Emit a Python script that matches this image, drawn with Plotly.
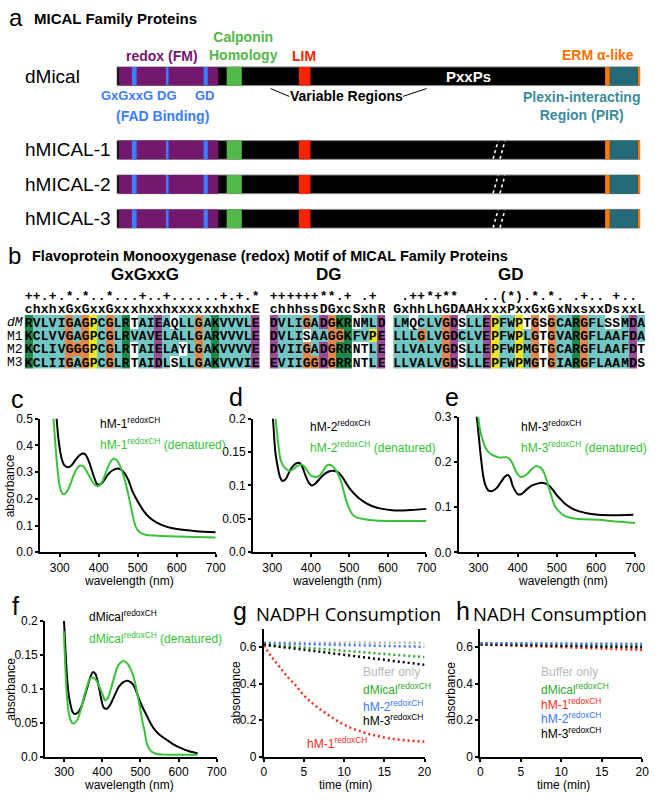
import plotly.graph_objects as go

W, H = 660, 801

SANS = "Liberation Sans, Arial, sans-serif"
MONO = "Liberation Mono, Courier New, monospace"
TITLE = "Open Sans, Noto Sans, sans-serif"

# ---------- a: domain maps (positions on a 0-1000 relative length scale) ----------
proteins = ["dMical", "hMICAL-1", "hMICAL-2", "hMICAL-3"]
backbone = (0, 1000)
redox_fm = (4, 194)
fad_motifs = [(29, 38), (94, 99), (166, 174)]
calponin_homology = (210, 239)
lim_domain = (348, 370)
erm_alpha = [(933, 942), (995, 1000)]
pir_region = (942, 995)

# ---------- b: redox motif alignment ----------
motif_names = ["GxGxxG", "DG", "GD"]
conservation = ["++.+.*.*..*...+..+......+.+.*",
                "++++++**.+ .+ ",
                " .++*+**   .. @ .*.*. .+.. +.. "]   # @ = (*)
consensus = ["chxhxGxGxxGxxxhxxhxxxxxxhxhxE",
             "chhhssDGxcSxhR",
             "GxhhLhGDAAHxxxPxxGxGxNxsxxDsxxL"]
seq_names = ["dM", "M1", "M2", "M3"]
seq_dM = ["RVLVIGAGPCGLRTAIEAQLLGAKVVVLE", "DVLIGADGKRNMLD", "LMQCLVGDSLLEPFWPTGSGCARGFLSSMDA"]
seq_M1 = ["KCLVVGAGPCGLRVAVELALLGARVVVLE", "DVLISAAGGKFVPE", "LLLGLVGDCLVEPFWPLGTGVARGFLAAFDA"]
seq_M2 = ["KCLIVGGGPCGLRTAIELAYLGAKVVVVE", "DVIIGADGRRNTLE", "LLVALVGDSLLEPFWPMGTGCARGFLAAFDT"]
seq_M3 = ["KCLIIGAGPCGLRTAIDLSLLGAKVVVIE", "EVIIGGDGRRNTLE", "LLVALVGDSLLEPFWPMGTGIARGFLAAMDS"]

# ---------- c-f: absorbance spectra ----------
c_black_wl = [288, 292, 297, 305, 312, 320, 330, 340, 350, 358, 366, 376, 386, 396, 406, 416, 426, 436, 446, 456,
              466, 476, 486, 500, 515, 530, 550, 575, 600, 650, 700]
c_black_abs = [0.58, 0.50, 0.42, 0.35, 0.325, 0.318, 0.325, 0.345, 0.362, 0.37, 0.366, 0.335, 0.29, 0.255, 0.256,
               0.275, 0.295, 0.307, 0.313, 0.31, 0.296, 0.27, 0.23, 0.19, 0.155, 0.13, 0.11, 0.095, 0.087, 0.079, 0.075]
c_green_wl = [280, 284, 289, 295, 301, 308, 316, 326, 336, 346, 354, 362, 372, 382, 392, 400, 410, 420, 430, 438,
              446, 456, 466, 476, 486, 495, 505, 520, 550, 600, 650, 700]
c_green_abs = [0.58, 0.50, 0.40, 0.30, 0.24, 0.218, 0.222, 0.25, 0.29, 0.318, 0.325, 0.32, 0.295, 0.268, 0.25, 0.248,
               0.268, 0.305, 0.338, 0.35, 0.345, 0.318, 0.275, 0.215, 0.145, 0.095, 0.075, 0.066, 0.062, 0.059, 0.057, 0.055]

d_black_wl = [298, 303, 308, 314, 320, 326, 334, 344, 352, 362, 370, 378, 386, 395, 403, 412, 423, 435, 447, 459,
              470, 480, 490, 500, 512, 525, 542, 560, 585, 611, 650, 700]
d_black_abs = [0.23, 0.19, 0.15, 0.128, 0.113, 0.107, 0.109, 0.12, 0.128, 0.133, 0.134, 0.128, 0.115, 0.104, 0.1,
               0.103, 0.11, 0.117, 0.121, 0.122, 0.12, 0.114, 0.105, 0.096, 0.088, 0.081, 0.074, 0.069, 0.065, 0.063, 0.063, 0.065]
d_green_wl = [305, 309, 315, 321, 327, 335, 344, 354, 364, 377, 385, 392, 400, 408, 416, 423, 432, 440, 446, 454,
              461, 470, 479, 486, 492, 500, 509, 520, 535, 560, 600, 650, 700]
d_green_abs = [0.24, 0.2, 0.165, 0.14, 0.131, 0.125, 0.122, 0.124, 0.129, 0.131, 0.127, 0.121, 0.115, 0.113, 0.113,
               0.115, 0.122, 0.129, 0.131, 0.13, 0.126, 0.118, 0.105, 0.09, 0.077, 0.065, 0.056, 0.052, 0.05, 0.048, 0.047, 0.047, 0.047]

e_black_wl = [293, 297, 301, 305, 312, 318, 325, 332, 342, 350, 358, 367, 375, 381, 387, 395, 402, 410, 417, 427,
              437, 450, 462, 471, 480, 490, 500, 510, 520, 537, 555, 580, 605, 650, 695]
e_black_abs = [0.32, 0.29, 0.255, 0.22, 0.17, 0.148, 0.137, 0.135, 0.139, 0.146, 0.156, 0.167, 0.171, 0.165, 0.148,
               0.134, 0.128, 0.129, 0.134, 0.142, 0.148, 0.152, 0.154, 0.152, 0.148, 0.138, 0.126, 0.117, 0.108, 0.098,
               0.091, 0.086, 0.083, 0.082, 0.083]
e_green_wl = [296, 300, 304, 308, 314, 320, 330, 342, 352, 362, 372, 380, 388, 395, 401, 407, 415, 425, 435, 445,
              452, 458, 465, 472, 480, 486, 492, 499, 505, 515, 537, 570, 605, 650, 700]
e_green_abs = [0.32, 0.295, 0.272, 0.256, 0.24, 0.228, 0.218, 0.213, 0.21, 0.21, 0.21, 0.206, 0.195, 0.18, 0.172,
               0.167, 0.168, 0.174, 0.183, 0.19, 0.19, 0.188, 0.18, 0.165, 0.141, 0.125, 0.108, 0.097, 0.091, 0.083,
               0.076, 0.073, 0.072, 0.068, 0.065]

f_black_wl = [299, 303, 307, 311, 316, 322, 328, 336, 345, 353, 361, 369, 376, 382, 389, 396, 404, 413, 422, 432,
              443, 455, 466, 474, 481, 490, 499, 508, 517, 525, 533, 545, 558, 571, 584, 605, 628, 650]
f_black_abs = [0.205, 0.16, 0.12, 0.095, 0.078, 0.066, 0.063, 0.065, 0.074, 0.088, 0.103, 0.118, 0.125, 0.122, 0.108,
               0.088, 0.072, 0.071, 0.078, 0.09, 0.103, 0.11, 0.112, 0.11, 0.106, 0.095, 0.081, 0.07, 0.06, 0.051,
               0.043, 0.035, 0.029, 0.024, 0.019, 0.013, 0.008, 0.005]
f_green_wl = [299, 303, 307, 311, 316, 322, 328, 335, 343, 350, 358, 365, 371, 377, 384, 391, 397, 403, 407, 414,
              422, 431, 440, 448, 456, 463, 469, 475, 481, 487, 492, 499, 505, 510, 517, 524, 530, 543, 560, 600, 650]
f_green_abs = [0.185, 0.13, 0.09, 0.068, 0.055, 0.049, 0.05, 0.055, 0.068, 0.084, 0.1, 0.112, 0.117, 0.116, 0.113,
               0.105, 0.097, 0.088, 0.083, 0.086, 0.099, 0.117, 0.133, 0.139, 0.141, 0.139, 0.135, 0.128, 0.12, 0.106,
               0.092, 0.072, 0.052, 0.04, 0.019, 0.011, 0.007, 0.004, 0.003, 0.003, 0.003]

# ---------- g-h: NADPH / NADH consumption ----------
time_min = list(range(21))
g_buffer = [0.626, 0.626, 0.626, 0.626, 0.626, 0.625, 0.625, 0.625, 0.625, 0.625, 0.625, 0.625, 0.625, 0.624,
            0.624, 0.624, 0.624, 0.624, 0.624, 0.624, 0.624]
g_dmical = [0.616, 0.612, 0.608, 0.605, 0.601, 0.598, 0.594, 0.591, 0.587, 0.584, 0.58, 0.577, 0.573, 0.57,
            0.566, 0.563, 0.559, 0.556, 0.552, 0.549, 0.545]
g_hm1 = [0.61, 0.545, 0.49, 0.435, 0.39, 0.335, 0.295, 0.26, 0.23, 0.2, 0.175, 0.155, 0.14, 0.125, 0.115, 0.105,
         0.098, 0.092, 0.088, 0.085, 0.082]
g_hm2 = [0.622, 0.621, 0.62, 0.619, 0.618, 0.617, 0.616, 0.615, 0.614, 0.613, 0.612, 0.611, 0.61, 0.609, 0.608,
         0.607, 0.606, 0.605, 0.604, 0.603, 0.602]
g_hm3 = [0.612, 0.607, 0.602, 0.597, 0.591, 0.586, 0.58, 0.575, 0.569, 0.564, 0.558, 0.553, 0.547, 0.542, 0.536,
         0.531, 0.525, 0.52, 0.514, 0.509, 0.503]

h_buffer = [0.622, 0.622, 0.622, 0.622, 0.622, 0.622, 0.621, 0.621, 0.621, 0.621, 0.621, 0.621, 0.621, 0.621,
            0.621, 0.621, 0.62, 0.62, 0.62, 0.62, 0.62]
h_dmical = [0.617, 0.617, 0.616, 0.616, 0.615, 0.615, 0.614, 0.613, 0.613, 0.612, 0.611, 0.611, 0.61, 0.61,
            0.609, 0.608, 0.608, 0.607, 0.607, 0.606, 0.605]
h_hm1 = [0.615, 0.614, 0.612, 0.611, 0.609, 0.608, 0.606, 0.605, 0.603, 0.602, 0.6, 0.599, 0.597, 0.596, 0.594,
         0.593, 0.591, 0.59, 0.588, 0.587, 0.585]
h_hm2 = [0.622, 0.622, 0.622, 0.621, 0.621, 0.621, 0.62, 0.62, 0.62, 0.619, 0.619, 0.619, 0.618, 0.618, 0.618,
         0.617, 0.617, 0.617, 0.616, 0.616, 0.616]
h_hm3 = [0.615, 0.614, 0.613, 0.613, 0.612, 0.611, 0.61, 0.61, 0.609, 0.608, 0.607, 0.606, 0.606, 0.605, 0.604,
         0.603, 0.602, 0.602, 0.601, 0.6, 0.599]


def fx(x):
    return x / W


def fy(y):
    return 1 - y / H


fig = go.Figure()
annotations = []
shapes = []


def note(text, x, y, size, color="black", family=SANS, weight="normal", xanchor="left", angle=0):
    annotations.append(dict(text=text, x=fx(x), y=fy(y), xref="paper", yref="paper", showarrow=False,
                            xanchor=xanchor, yanchor="middle", textangle=angle,
                            font=dict(family=family, size=size, color=color, weight=weight)))


# ======================= panel a =======================
row_y = [70.5, 145.5, 180.5, 215.5]   # bar rows, in page pixels


def domain_bar(span, color, outline=None):
    s, e = span
    fig.add_trace(go.Bar(x=[e - s] * len(proteins), base=[s] * len(proteins), y=row_y, orientation="h",
                         width=19, marker=dict(color=color, line=dict(width=1 if outline else 0,
                                                                      color=outline or color)),
                         xaxis="x", yaxis="y", hoverinfo="skip"))


domain_bar(backbone, "black", outline="#8a8a8a")
domain_bar(redox_fm, "#74186e")
for m in fad_motifs:
    domain_bar(m, "#3a7dff")
domain_bar(calponin_homology, "#52b848")
domain_bar(lim_domain, "#ff2200")
for m in erm_alpha:
    domain_bar(m, "#ff7800")
domain_bar(pir_region, "#246a78")

note("a", 4, 11, 24)
note("MICAL Family Proteins", 30, 12, 15, weight="bold")
for name, y in zip(proteins, row_y):
    note(name, 20, y, 19)
note("redox (FM)", 162, 50, 14, "#74186e", weight="bold", xanchor="center")
note("Calponin<br>Homology", 245, 40, 14, "#52b848", weight="bold", xanchor="center")
note("LIM", 307, 50, 14, "#ff2200", weight="bold", xanchor="center")
note("ERM α-like", 607, 49, 14, "#ff7000", weight="bold", xanchor="center")
note("PxxPs", 475, 71, 15, "white", weight="bold", xanchor="center")
for lab, xc in zip(["GxGxxG", "DG", "GD"], [127, 167, 206]):
    note(lab, xc, 90, 13, "#3a7dff", weight="bold", xanchor="center")
note("(FAD Binding)", 163, 111, 14, "#3a7dff", weight="bold", xanchor="center")
note("Variable Regions", 350, 91, 14, weight="bold", xanchor="center")
note("Plexin-interacting<br>Region (PIR)", 590, 101, 14, "#3a8b9c", weight="bold", xanchor="center")

for x0, y0, x1, y1 in [(273, 83, 292, 91), (408, 91, 432, 83)]:
    shapes.append(dict(type="line", xref="paper", yref="paper", x0=fx(x0), y0=fy(y0), x1=fx(x1), y1=fy(y1),
                       line=dict(color="black", width=1)))
for yc in row_y[1:]:
    for xb in (500, 507):
        shapes.append(dict(type="line", xref="paper", yref="paper", x0=fx(xb), y0=fy(yc + 9), x1=fx(xb + 5),
                           y1=fy(yc - 9), line=dict(color="white", width=1.6, dash="dot")))

# ======================= panel b =======================
res_code = {}
for aa in "AVLIMFWC":
    res_code[aa] = 1
res_code.update({"G": 2, "P": 3, "D": 4, "E": 4, "K": 5, "R": 5})
aln_scale = [[0, "white"], [0.2, "#72c7c4"], [0.4, "#e0894a"], [0.6, "#f2e51c"], [0.8, "#9a4c96"], [1, "#1d8a4c"]]

block_px = [(22, 262), (272, 390), (398, 655)]
all_seqs = [seq_dM, seq_M1, seq_M2, seq_M3]
for b in range(3):
    n = len(consensus[b])
    sym = ["(*)" if ch == "@" else ch for ch in conservation[b]]
    text = [sym, list(consensus[b])] + [list(s[b]) for s in all_seqs]
    z = [[0] * n, [0] * n] + [[res_code.get(ch, 0) for ch in s[b]] for s in all_seqs]
    ax = str(b + 2)
    fig.add_trace(go.Heatmap(z=z, text=text, texttemplate="%{text}", x=list(range(n)), y=list(range(6)),
                             colorscale=aln_scale, zmin=0, zmax=5, showscale=False, hoverinfo="skip",
                             textfont=dict(family=MONO, size=13, color="black", weight="bold"),
                             xaxis="x" + ax, yaxis="y" + ax))
    fig.layout["xaxis" + ax] = dict(domain=[fx(block_px[b][0]), fx(block_px[b][1])], range=[-0.5, n - 0.5],
                                    visible=False, anchor="y" + ax)
    fig.layout["yaxis" + ax] = dict(domain=[fy(368), fy(286)], range=[5.5, -0.5], anchor="x" + ax,
                                    showgrid=False, zeroline=False, showline=False, ticks="",
                                    tickvals=[2, 3, 4, 5] if b == 0 else [],
                                    ticktext=["<i>dM</i>", "M1", "M2", "M3"] if b == 0 else [],
                                    tickfont=dict(family=MONO, size=13, color="black"), ticklabelstandoff=1)

note("b", 3, 253, 24)
note("Flavoprotein Monooxygenase (redox) Motif of MICAL Family Proteins", 28, 253, 14.5, weight="bold")
for lab, xc in zip(motif_names, [145, 333, 518]):
    note(lab, xc, 272, 17, weight="bold", xanchor="center")

# ======================= panels c-h =======================
GREEN = "#38c238"
LAB = 12


def chart(n, xpx, ypx, xrange, yrange, xticks, yticks, yticktext):
    tf = dict(family=SANS, size=LAB, color="black")
    common = dict(showline=True, linecolor="black", linewidth=2, ticks="outside", ticklen=3, tickwidth=1.5,
                  tickcolor="black", showgrid=False, zeroline=False, tickfont=tf)
    fig.layout["xaxis" + n] = dict(domain=[fx(xpx[0]), fx(xpx[1])], range=xrange, anchor="y" + n,
                                   tickvals=xticks, **common)
    fig.layout["yaxis" + n] = dict(domain=[fy(ypx[1]), fy(ypx[0])], range=yrange, anchor="x" + n,
                                   tickvals=yticks, ticktext=yticktext, **common)


def spectrum(n, wl, ab, color):
    fig.add_trace(go.Scatter(x=wl, y=ab, mode="lines", line=dict(color=color, width=2, shape="spline",
                                                                  smoothing=0.8),
                             xaxis="x" + n, yaxis="y" + n, hoverinfo="skip"))


wl_ticks = [300, 400, 500, 600, 700]
chart("5", (38, 217), (419, 555), [250, 700], [0, 0.5], wl_ticks,
      [0, 0.1, 0.2, 0.3, 0.4, 0.5], ["0.0", "0.1", "0.2", "0.3", "0.4", "0.5"])
chart("6", (255, 432), (419, 555), [250, 700], [0, 0.2], wl_ticks,
      [0, 0.05, 0.1, 0.15, 0.2], ["0.0", "0.05", "0.1", "0.15", "0.2"])
chart("7", (465, 645), (417, 555), [250, 700], [0, 0.3], wl_ticks,
      [0, 0.1, 0.2, 0.3], ["0.0", "0.1", "0.2", "0.3"])
chart("8", (43, 218), (625, 763), [250, 700], [0, 0.2], wl_ticks,
      [0, 0.05, 0.1, 0.15, 0.2], ["0.0", "0.05", "0.1", "0.15", "0.2"])
chart("9", (266, 430), (633, 763), [0, 20], [0, 0.7], [0, 5, 10, 15, 20],
      [0, 0.2, 0.4, 0.6], ["0", "0.2", "0.4", "0.6"])
chart("10", (487, 652), (633, 763), [0, 20], [0, 0.7], [0, 5, 10, 15, 20],
      [0, 0.2, 0.4, 0.6], ["0", "0.2", "0.4", "0.6"])

spectrum("5", c_black_wl, c_black_abs, "black")
spectrum("5", c_green_wl, c_green_abs, GREEN)
spectrum("6", d_black_wl, d_black_abs, "black")
spectrum("6", d_green_wl, d_green_abs, GREEN)
spectrum("7", e_black_wl, e_black_abs, "black")
spectrum("7", e_green_wl, e_green_abs, GREEN)
spectrum("8", f_black_wl, f_black_abs, "black")
spectrum("8", f_green_wl, f_green_abs, GREEN)

kin_colors = {"buffer": "#b8b8b8", "dmical": "#2ea82e", "hm1": "#ff2a1a", "hm2": "#3a78ff", "hm3": "black"}
for n, series in [("9", [("buffer", g_buffer), ("hm2", g_hm2), ("dmical", g_dmical), ("hm3", g_hm3), ("hm1", g_hm1)]),
                  ("10", [("buffer", h_buffer), ("dmical", h_dmical), ("hm1", h_hm1), ("hm3", h_hm3), ("hm2", h_hm2)])]:
    for key, vals in series:
        fig.add_trace(go.Scatter(x=time_min, y=vals, mode="lines",
                                 line=dict(color=kin_colors[key], width=2.5, dash="2px,3px", shape="spline"),
                                 xaxis="x" + n, yaxis="y" + n, hoverinfo="skip"))

# panel letters
for lab, x, y in [("c", 6, 399), ("d", 229, 397), ("e", 449, 397), ("f", 7, 610), ("g", 233, 615), ("h", 460, 615)]:
    note(lab, x, y, 25)
note("NADPH Consumption", 256, 617, 18.5, family=TITLE)
note("NADH Consumption", 477, 617, 18.5, family=TITLE)

# axis titles
for x, y in [(8, 487), (8, 694), (237, 698), (457, 698)]:
    note("absorbance", x, y, LAB, xanchor="center", angle=-90)
for x, y in [(129, 584), (341, 584), (571, 584), (129, 792)]:
    note("wavelength (nm)", x, y, LAB, xanchor="center")
for x in (349, 572):
    note("time (min)", x, 792, LAB, xanchor="center")

# spectrum labels
SUP = "<sup>redoxCH</sup>"
for name, x, y0 in [("hM-1", 97, 423), ("hM-2", 311, 426), ("hM-3", 526, 426), ("dMical", 86, 620)]:
    note(name + SUP, x, y0, LAB)
    note(name + SUP + " (denatured)", x, y0 + 22, LAB, "#33c433")

# kinetics labels
note("Buffer only", 365, 677, LAB, "#b8b8b8")
note("dMical" + SUP, 365, 694, LAB, "#2ea82e")
note("hM-2" + SUP, 365, 711, LAB, "#3a78ff")
note("hM-3" + SUP, 365, 726, LAB, "black")
note("hM-1" + SUP, 341, 749, LAB, "#ff2a1a", xanchor="center")
for txt, col, y in [("Buffer only", "#b8b8b8", 677), ("dMical" + SUP, "#2ea82e", 694), ("hM-1" + SUP, "#ff2a1a", 709),
                    ("hM-2" + SUP, "#3a78ff", 724), ("hM-3" + SUP, "black", 739)]:
    note(txt, 547, y, LAB, col)

fig.update_layout(
    width=W, height=H, margin=dict(l=0, r=0, t=0, b=0),
    paper_bgcolor="white", plot_bgcolor="white", showlegend=False, barmode="overlay",
    xaxis=dict(domain=[fx(116), fx(650)], range=[0, 1000], visible=False),
    yaxis=dict(domain=[fy(240), fy(40)], range=[240, 40], visible=False),
    annotations=annotations, shapes=shapes,
)

fig.write_html("out.html", config={"displayModeBar": False},
               post_script="document.body.style.margin='0';")
